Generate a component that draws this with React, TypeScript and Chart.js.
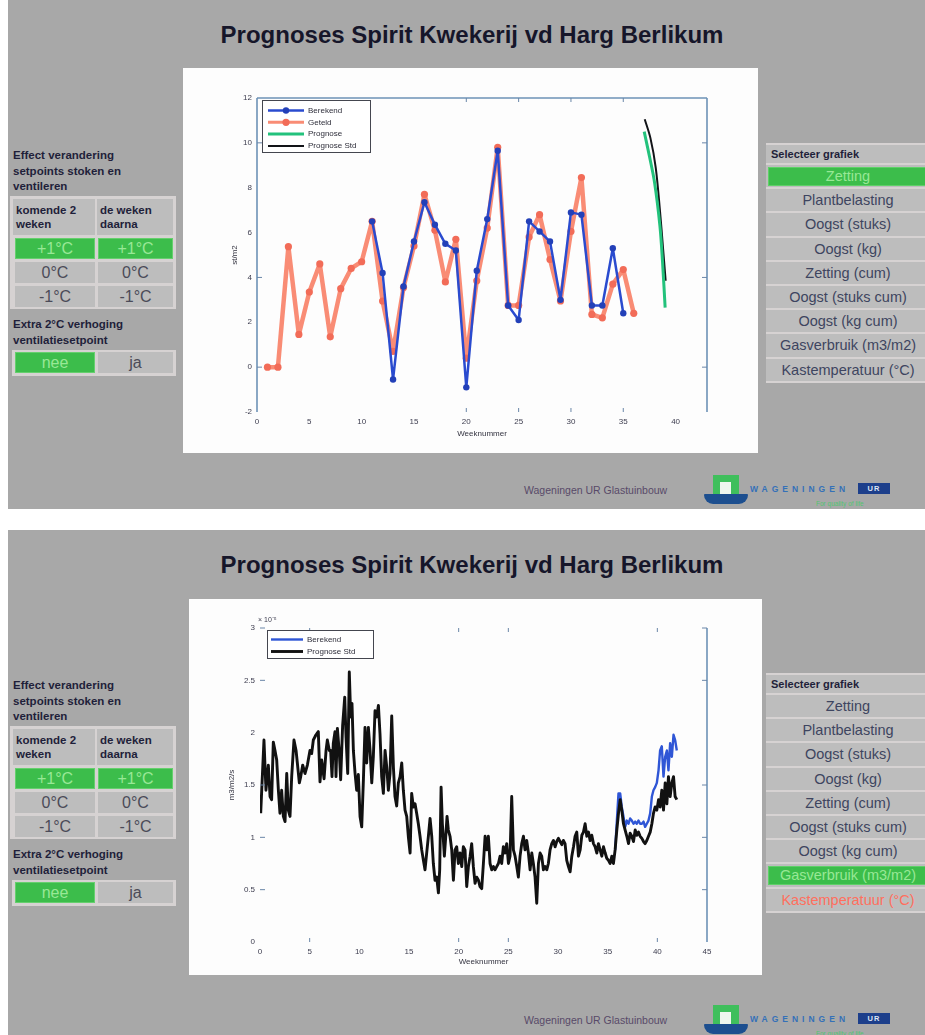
import React, { useEffect, useRef } from "react";
import { Chart, registerables } from "chart.js";

Chart.register(...registerables);

// ---- Zetting (st/m2 per week) ----
const getelWeeks = [1, 2, 3, 4, 5, 6, 7, 8, 9, 10, 11, 12, 13, 14, 15, 16, 17, 18, 19, 20, 21, 22, 23, 24, 25, 26, 27, 28, 29, 30, 31, 32, 33, 34, 35, 36];
const zettingGeteld = [0, 0, 5.37, 1.46, 3.35, 4.6, 1.35, 3.5, 4.4, 4.7, 6.5, 2.95, 0.7, 3.55, 5.4, 7.7, 6.1, 3.8, 5.7, 0.4, 3.85, 6.2, 9.8, 2.75, 2.75, 5.8, 6.8, 4.8, 2.95, 6.05, 8.45, 2.35, 2.2, 3.7, 4.35, 2.4];
const berekendWeeks = [11, 12, 13, 14, 15, 16, 17, 18, 19, 20, 21, 22, 23, 24, 25, 26, 27, 28, 29, 30, 31, 32, 33, 34, 35];
const zettingBerekend = [6.5, 4.2, -0.55, 3.6, 5.6, 7.35, 6.35, 5.5, 5.2, -0.9, 4.3, 6.6, 9.65, 2.75, 2.1, 6.5, 6.05, 5.6, 3.0, 6.9, 6.8, 2.75, 2.75, 5.3, 2.4];
const prognoseWeeks = [37, 37.5, 38, 38.5, 38.75, 39];
const zettingPrognose = [10.5, 9.4, 8.2, 6.3, 4.7, 2.65];
const prognoseStdWeeks = [37.05, 37.6, 38.1, 38.5, 38.8, 39.05];
const zettingPrognoseStd = [11.05, 10.2, 8.9, 7.0, 5.3, 3.85];
const zettingXMarks = [20, 25, 30, 35];
const zettingYMarks = [0, 4, 10];

// ---- Gasverbruik ----
const gasWeeks = [
  0.07, 0.40, 0.60, 0.84, 1.01, 1.17, 1.34, 1.51, 1.68, 1.85,
  2.01, 2.18, 2.35, 2.52, 2.69, 2.85, 3.02, 3.19, 3.42, 3.63,
  3.76, 3.96, 4.10, 4.30, 4.53, 4.77, 5.03, 5.20, 5.37, 5.64,
  5.87, 6.04, 6.21, 6.45, 6.65, 6.78, 6.98, 7.11, 7.25, 7.38,
  7.55, 7.65, 7.79, 7.99, 8.12, 8.32, 8.53, 8.66, 8.83, 8.99,
  9.13, 9.26, 9.40, 9.57, 9.73, 9.90, 10.07, 10.24, 10.41, 10.57,
  10.74, 10.91, 11.08, 11.25, 11.41, 11.58, 11.75, 11.92, 12.08, 12.25,
  12.42, 12.59, 12.76, 12.92, 13.09, 13.26, 13.43, 13.59, 13.76, 13.93,
  14.10, 14.27, 14.43, 14.60, 14.77, 14.94, 15.11,
  15.27, 15.44, 15.61, 15.77, 15.94, 16.11, 16.28, 16.45, 16.61, 16.78,
  16.95, 17.12, 17.29, 17.45, 17.62, 17.79, 17.96, 18.09, 18.23, 18.36,
  18.56, 18.70, 18.83, 18.96, 19.13, 19.30, 19.47, 19.64, 19.80, 19.97,
  20.14, 20.31, 20.47, 20.64, 20.81, 20.98, 21.15, 21.31, 21.48, 21.65,
  21.82, 21.99, 22.15, 22.32, 22.49, 22.66, 22.82, 22.99, 23.16, 23.33,
  23.50, 23.66, 23.83, 24.00, 24.17, 24.33, 24.50, 24.67, 24.84, 25.01,
  25.17, 25.34, 25.51, 25.68, 25.85, 26.01, 26.18, 26.35, 26.52, 26.68,
  26.85, 27.02, 27.19, 27.36, 27.52, 27.69, 27.86, 28.03, 28.20, 28.36,
  28.53, 28.70, 28.87, 29.03, 29.20, 29.37, 29.54, 29.71, 29.87, 30.04,
  30.21, 30.38, 30.54, 30.71,
  30.88, 31.05, 31.22, 31.39, 31.56, 31.72, 31.89, 32.06, 32.23, 32.40,
  32.56, 32.73, 32.90, 33.07, 33.23, 33.40, 33.57, 33.74, 33.91, 34.07,
  34.24, 34.41, 34.58, 34.75, 34.91, 35.08, 35.25, 35.42, 35.58, 35.75,
  35.92, 36.09, 36.26, 36.42, 36.59, 36.76, 36.93, 37.10, 37.26, 37.43,
  37.60, 37.77, 37.93, 38.10, 38.27, 38.44, 38.61, 38.77, 38.94, 39.11,
  39.28, 39.45, 39.61, 39.78, 39.95, 40.12, 40.28, 40.45, 40.62, 40.79,
  40.96, 41.12, 41.29, 41.46, 41.63, 41.79, 41.96,
];
const gasPrognoseStd = [
  1.23, 1.93, 1.45, 1.69, 1.39, 1.36, 1.91, 1.83, 1.74, 1.45,
  1.23, 1.45, 1.20, 1.15, 1.61, 1.26, 1.20, 1.58, 1.93, 1.83,
  1.71, 1.52, 1.58, 1.69, 1.61, 1.69, 1.83, 1.80, 1.93, 1.98,
  2.01, 1.53, 1.74, 1.56, 1.83, 1.93, 1.83, 1.83, 1.58, 1.90,
  2.01, 1.58, 2.04, 1.80, 1.55, 2.07, 2.34, 1.96, 1.61, 2.58,
  2.15, 2.28, 1.83, 1.61, 1.45, 1.60, 1.20, 1.10, 1.55, 2.05,
  1.71, 2.05, 1.83, 1.52, 1.77, 2.21, 2.15, 2.26, 1.99, 1.58,
  1.42, 1.83, 1.67, 1.45, 1.61, 2.16, 1.67, 1.39, 1.30, 1.52,
  1.58, 1.71, 1.45, 1.26, 1.20, 1.00, 0.85,
  1.42, 1.29, 1.32, 1.23, 1.13, 1.01, 0.88, 0.78, 0.69, 0.85,
  1.01, 1.18, 1.01, 0.75, 0.59, 0.62, 0.47, 0.69, 1.48, 1.13,
  0.82, 1.01, 1.20, 1.07, 1.01, 0.88, 0.59, 0.88, 0.91, 0.75,
  0.85, 0.72, 0.91, 0.88, 0.53, 0.72, 0.82, 0.94, 0.72, 0.56,
  0.62, 0.59, 0.53, 0.51, 0.75, 1.01, 0.88, 1.01, 0.75, 0.69,
  0.72, 0.69, 0.72, 0.75, 0.82, 0.75, 0.91, 0.85, 0.94, 0.75,
  0.82, 1.39, 0.88, 0.82, 0.72, 0.62, 0.82, 0.94, 1.01, 0.88,
  0.97, 0.85, 0.69, 0.85, 0.75, 0.62, 0.37, 0.75, 0.85, 0.82,
  0.69, 0.72, 0.69, 0.75, 0.88, 0.94, 0.97, 0.91, 0.96, 0.99,
  0.96, 0.93, 0.97, 0.94,
  0.78, 0.72, 0.67, 0.82, 0.91, 1.01, 1.05, 0.82, 0.88, 1.02,
  1.05, 1.13, 1.01, 1.05, 0.97, 1.02, 0.94, 0.91, 0.85, 0.94,
  0.88, 0.82, 0.91, 0.85, 0.80, 0.78, 0.75, 0.82, 0.75, 0.88,
  1.07, 1.23, 1.36, 1.26, 1.13, 1.07, 1.01, 0.94, 1.04, 1.01,
  0.96, 1.07, 1.02, 1.05, 1.01, 0.99, 0.96, 0.94, 0.97, 1.01,
  1.05, 1.13, 1.23, 1.29, 1.26, 1.36, 1.29, 1.45, 1.26, 1.52,
  1.32, 1.58, 1.39, 1.52, 1.58, 1.39, 1.36,
];
const gasBerekendWeeks = [
  35.75, 35.92, 36.09, 36.26, 36.42, 36.59, 36.76, 36.93, 37.10, 37.26,
  37.43, 37.60, 37.77, 37.93, 38.10, 38.27, 38.44, 38.61, 38.77, 38.94,
  39.11, 39.28, 39.45, 39.61, 39.78, 39.95, 40.12, 40.28, 40.45, 40.62,
  40.79, 40.96, 41.12, 41.29, 41.46, 41.63, 41.79, 41.96,
];
const gasBerekend = [
  0.88, 1.15, 1.42, 1.42, 1.29, 1.20, 1.10, 1.16, 1.13, 1.18,
  1.16, 1.13, 1.15, 1.13, 1.16, 1.13, 1.13, 1.15, 1.10, 1.13,
  1.16, 1.23, 1.39, 1.45, 1.48, 1.52, 1.64, 1.83, 1.87, 1.58,
  1.77, 1.83, 1.64, 1.90, 1.77, 1.98, 1.93, 1.83,
];
const gasXMarks = [5, 20, 25, 40];
const gasYMarks = [0.5, 1, 1.5, 2.5, 3];

// ---- Panel texts ----
const setpointSteps = ["+1°C", "0°C", "-1°C"];
const grafiekKeuzes = [
  "Zetting",
  "Plantbelasting",
  "Oogst (stuks)",
  "Oogst (kg)",
  "Zetting (cum)",
  "Oogst (stuks cum)",
  "Oogst (kg cum)",
  "Gasverbruik (m3/m2)",
  "Kastemperatuur (°C)",
];
const TITLE = "Prognoses Spirit Kwekerij vd Harg Berlikum";

const SANS = '"Liberation Sans", Arial, sans-serif';
const PANEL_GRAY = "#a8a8a8";
const CELL_GRAY = "#bdbdbd";
const CELL_LINE = "#d6d2d2";
const GREEN = "#3cbd4b";
const GREEN_TEXT = "#98e896";
const DARK_TEXT = "#1f1f3a";
const ROW_TEXT = "#3e4560";
const AXIS_BLUE = "#6d92b6";
const TICK_TEXT = "#3d3d4f";

const pts = (xs: number[], ys: number[]) => xs.map((x, i) => ({ x, y: ys[i] }));

// Draws the Matlab-like frame: partial borders, inward tick marks, boxed legend, exponent.
const framePlugin = {
  id: "matlabFrame",
  afterDatasetsDraw(chart: any, _args: any, opts: any) {
    const { ctx, chartArea: ca, scales } = chart;
    const xs = scales.x;
    const ys = scales.y;
    const line = (x1: number, y1: number, x2: number, y2: number) => {
      ctx.beginPath();
      ctx.moveTo(x1, y1);
      ctx.lineTo(x2, y2);
      ctx.stroke();
    };
    ctx.save();
    ctx.strokeStyle = AXIS_BLUE;
    ctx.lineWidth = 1.6;
    const b = opts.borders || {};
    if (b.left) line(ca.left, ca.top, ca.left, ca.bottom);
    if (b.top) line(ca.left, ca.top, ca.right, ca.top);
    if (b.right) line(ca.right, ca.top, ca.right, ca.bottom);
    if (b.bottom) line(ca.left, ca.bottom, ca.right, ca.bottom);

    ctx.lineWidth = 1;
    ctx.strokeStyle = "#6a86a8";
    (opts.xMarks || []).forEach((v: number) => {
      const px = xs.getPixelForValue(v);
      line(px, ca.bottom, px, ca.bottom - 4);
      line(px, ca.top, px, ca.top + 4);
    });
    (opts.yMarks || []).forEach((v: number) => {
      const py = ys.getPixelForValue(v);
      line(ca.left, py, ca.left + 5, py);
      line(ca.right, py, ca.right - 5, py);
    });

    const lg = opts.legend;
    if (lg) {
      const x0 = ca.left + lg.dx;
      const y0 = ca.top + lg.dy;
      ctx.fillStyle = "#ffffff";
      ctx.fillRect(x0, y0, lg.width, lg.height);
      ctx.strokeStyle = "#44464f";
      ctx.lineWidth = 1;
      ctx.strokeRect(x0 + 0.5, y0 + 0.5, lg.width, lg.height);
      ctx.font = `8px ${SANS}`;
      ctx.textBaseline = "middle";
      ctx.textAlign = "left";
      chart.data.datasets.forEach((ds: any, i: number) => {
        const y = y0 + lg.first + i * lg.row;
        ctx.strokeStyle = ds.borderColor;
        ctx.lineWidth = Math.min(ds.borderWidth, 3);
        line(x0 + lg.sample[0], y, x0 + lg.sample[1], y);
        if (ds.pointRadius > 0) {
          ctx.fillStyle = ds.pointBackgroundColor;
          ctx.beginPath();
          ctx.arc((2 * x0 + lg.sample[0] + lg.sample[1]) / 2, y, ds.pointRadius, 0, Math.PI * 2);
          ctx.fill();
        }
        ctx.fillStyle = "#2e2e3a";
        ctx.fillText(ds.label, x0 + lg.text, y);
      });
    }

    if (opts.exponent) {
      ctx.fillStyle = TICK_TEXT;
      ctx.font = `7px ${SANS}`;
      ctx.textAlign = "left";
      ctx.textBaseline = "bottom";
      ctx.fillText(opts.exponent, ca.left - 2, ca.top - 4);
    }
    ctx.restore();
  },
};

const tickFont = { family: SANS, size: 8 };

function axisOptions(cfg: any) {
  return {
    x: {
      type: "linear",
      min: cfg.xMin,
      max: cfg.xMax,
      afterFit: (s: any) => {
        s.height = cfg.bottom;
      },
      grid: { display: false, drawTicks: false },
      border: { display: false },
      ticks: {
        stepSize: 5,
        includeBounds: false,
        padding: 5,
        autoSkip: false,
        maxRotation: 0,
        font: tickFont,
        color: TICK_TEXT,
      },
      title: {
        display: true,
        text: "Weeknummer",
        font: tickFont,
        color: "#333340",
        padding: { top: 0, bottom: cfg.xTitlePad },
      },
    },
    y: {
      type: "linear",
      min: cfg.yMin,
      max: cfg.yMax,
      afterFit: (s: any) => {
        s.width = cfg.left;
      },
      grid: { display: false, drawTicks: false },
      border: { display: false },
      ticks: {
        stepSize: cfg.yStep,
        includeBounds: false,
        padding: 5,
        autoSkip: false,
        font: tickFont,
        color: TICK_TEXT,
        callback: (v: number) => String(v),
      },
      title: {
        display: true,
        text: cfg.yTitle,
        font: tickFont,
        color: "#333340",
        padding: { top: cfg.yTitlePad, bottom: 0 },
      },
    },
  };
}

function ZettingChart() {
  const ref = useRef<HTMLCanvasElement>(null);
  useEffect(() => {
    const chart = new Chart(ref.current as HTMLCanvasElement, {
      type: "line",
      data: {
        datasets: [
          {
            label: "Berekend",
            data: pts(berekendWeeks, zettingBerekend),
            borderColor: "#2a4bcf",
            backgroundColor: "#2a4bcf",
            pointBackgroundColor: "#2340b8",
            borderWidth: 2.5,
            borderJoinStyle: "round",
            pointRadius: 3.2,
            pointBorderWidth: 0,
          },
          {
            label: "Geteld",
            data: pts(getelWeeks, zettingGeteld),
            borderColor: "#f98c75",
            backgroundColor: "#f98c75",
            pointBackgroundColor: "#f26c58",
            borderWidth: 4.5,
            borderJoinStyle: "round",
            pointRadius: 3.6,
            pointBorderWidth: 0,
          },
          {
            label: "Prognose",
            data: pts(prognoseWeeks, zettingPrognose),
            borderColor: "#23c27c",
            backgroundColor: "#23c27c",
            borderWidth: 3,
            pointRadius: 0,
            tension: 0.35,
          },
          {
            label: "Prognose Std",
            data: pts(prognoseStdWeeks, zettingPrognoseStd),
            borderColor: "#121418",
            backgroundColor: "#121418",
            borderWidth: 2,
            pointRadius: 0,
            tension: 0.35,
          },
        ],
      },
      options: {
        responsive: false,
        animation: false,
        layout: { padding: { left: 0, top: 30, right: 51, bottom: 0 } },
        plugins: {
          legend: { display: false },
          tooltip: { enabled: false },
          matlabFrame: {
            borders: { left: true, top: true, right: true },
            xMarks: zettingXMarks,
            yMarks: zettingYMarks,
            legend: { dx: 5, dy: 2, width: 108, height: 52, first: 10.5, row: 11.8, sample: [6, 42], text: 46 },
          },
        },
        scales: axisOptions({
          xMin: 0,
          xMax: 43,
          yMin: -2,
          yMax: 12,
          yStep: 2,
          left: 74,
          bottom: 41,
          yTitle: "st/m2",
          yTitlePad: 47,
          xTitlePad: 14,
        }),
      } as any,
      plugins: [framePlugin as any],
    });
    return () => chart.destroy();
  }, []);
  return <canvas ref={ref} width={575} height={385} style={{ display: "block" }} />;
}

function GasChart() {
  const ref = useRef<HTMLCanvasElement>(null);
  useEffect(() => {
    const chart = new Chart(ref.current as HTMLCanvasElement, {
      type: "line",
      data: {
        datasets: [
          {
            label: "Berekend",
            data: pts(gasBerekendWeeks, gasBerekend),
            borderColor: "#2f56d6",
            backgroundColor: "#2f56d6",
            borderWidth: 2.4,
            borderJoinStyle: "round",
            pointRadius: 0,
            order: 1,
          },
          {
            label: "Prognose Std",
            data: pts(gasWeeks, gasPrognoseStd),
            borderColor: "#111111",
            backgroundColor: "#111111",
            borderWidth: 2.9,
            borderJoinStyle: "round",
            pointRadius: 0,
            order: 0,
          },
        ],
      },
      options: {
        responsive: false,
        animation: false,
        layout: { padding: { left: 0, top: 29, right: 55, bottom: 0 } },
        plugins: {
          legend: { display: false },
          tooltip: { enabled: false },
          matlabFrame: {
            borders: { right: true },
            xMarks: gasXMarks,
            yMarks: gasYMarks,
            exponent: "× 10⁻⁵",
            legend: { dx: 7, dy: 2, width: 106, height: 28, first: 9.5, row: 12, sample: [4, 36], text: 40 },
          },
        },
        scales: axisOptions({
          xMin: 0,
          xMax: 45,
          yMin: 0,
          yMax: 3,
          yStep: 0.5,
          left: 71,
          bottom: 33,
          yTitle: "m3/m2/s",
          yTitlePad: 38,
          xTitlePad: 8,
        }),
      } as any,
      plugins: [framePlugin as any],
    });
    return () => chart.destroy();
  }, []);
  return <canvas ref={ref} width={573} height={376} style={{ display: "block" }} />;
}

type BoxProps = {
  x: number;
  y: number;
  w: number;
  h: number;
  bg?: string;
  style?: React.CSSProperties;
  children?: React.ReactNode;
};

function Box({ x, y, w, h, bg, style, children }: BoxProps) {
  return (
    <div
      style={{
        position: "absolute",
        left: x,
        top: y,
        width: w,
        height: h,
        background: bg,
        boxSizing: "border-box",
        ...style,
      }}
    >
      {children}
    </div>
  );
}

const centered: React.CSSProperties = {
  display: "flex",
  alignItems: "center",
  justifyContent: "center",
  whiteSpace: "nowrap",
};

function SetpointPanel() {
  const heading: React.CSSProperties = {
    font: `bold 11.5px ${SANS}`,
    lineHeight: "15.5px",
    color: DARK_TEXT,
  };
  const valueFont = `16px ${SANS}`;
  return (
    <>
      <Box x={13} y={148} w={170} h={48} style={heading}>
        Effect verandering
        <br />
        setpoints stoken en
        <br />
        ventileren
      </Box>
      <Box x={10} y={196} w={166} h={113} bg={CELL_LINE} />
      <Box x={13} y={199} w={82} h={36} bg={CELL_GRAY} style={{ ...heading, lineHeight: "14px", padding: "4px 3px" }}>
        komende 2
        <br />
        weken
      </Box>
      <Box x={97} y={199} w={76} h={36} bg={CELL_GRAY} style={{ ...heading, lineHeight: "14px", padding: "4px 3px" }}>
        de weken
        <br />
        daarna
      </Box>
      {setpointSteps.map((s, i) => {
        const y = 238 + i * 24;
        const on = i === 0;
        const cellStyle: React.CSSProperties = {
          ...centered,
          font: valueFont,
          color: on ? GREEN_TEXT : "#4b4b58",
          border: on ? "1px solid #66cf6e" : "none",
        };
        return (
          <React.Fragment key={s}>
            <Box x={15} y={y} w={80} h={21} bg={on ? GREEN : CELL_GRAY} style={cellStyle}>
              {s}
            </Box>
            <Box x={98} y={y} w={75} h={21} bg={on ? GREEN : CELL_GRAY} style={cellStyle}>
              {s}
            </Box>
          </React.Fragment>
        );
      })}
      <Box x={13} y={317} w={170} h={32} style={heading}>
        Extra 2°C verhoging
        <br />
        ventilatiesetpoint
      </Box>
      <Box x={12} y={350} w={164} h={26} bg={CELL_LINE} />
      <Box x={15} y={352} w={80} h={21} bg={GREEN} style={{ ...centered, font: valueFont, color: GREEN_TEXT, border: "1px solid #66cf6e" }}>
        nee
      </Box>
      <Box x={98} y={352} w={75} h={21} bg={CELL_GRAY} style={{ ...centered, font: valueFont, color: "#4b4b58" }}>
        ja
      </Box>
    </>
  );
}

function GrafiekPanel({ selected, alert }: { selected: number; alert?: number }) {
  const rowTop = 163;
  const rowH = 24.2;
  return (
    <>
      <Box x={766} y={143} w={165} h={20} bg={CELL_GRAY} style={{ borderTop: `2px solid ${CELL_LINE}` }} />
      <Box x={771} y={146} w={150} h={16} style={{ font: `bold 11px ${SANS}`, color: DARK_TEXT, lineHeight: "16px" }}>
        Selecteer grafiek
      </Box>
      {grafiekKeuzes.map((label, i) => {
        const y = rowTop + i * rowH;
        const on = i === selected;
        const color = on ? GREEN_TEXT : i === alert ? "#ff6f5e" : ROW_TEXT;
        return (
          <React.Fragment key={label}>
            <Box x={766} y={y} w={165} h={rowH} bg={CELL_GRAY} style={{ borderTop: `2px solid ${CELL_LINE}` }} />
            {on && <Box x={768} y={y + 3.5} w={160} h={rowH - 5} bg={GREEN} style={{ border: "1px solid #5fd068" }} />}
            <Box x={768} y={y + 2} w={160} h={rowH - 2} style={{ ...centered, font: `14.5px ${SANS}`, color }}>
              {label}
            </Box>
          </React.Fragment>
        );
      })}
      <Box x={766} y={rowTop + grafiekKeuzes.length * rowH} w={165} h={2} bg={CELL_LINE} />
    </>
  );
}

function Footer() {
  return (
    <>
      <Box x={524} y={483} w={175} h={14} style={{ font: `10.5px ${SANS}`, color: "#584a69", whiteSpace: "nowrap", lineHeight: "14px" }}>
        Wageningen UR Glastuinbouw
      </Box>
      <Box x={713} y={475} w={26} h={22} bg="#3fbf5c" />
      <Box x={720} y={482} w={11} h={14} bg="#eef6ee" />
      <Box x={704} y={494} w={44} h={10} bg="#1d4f8f" style={{ borderRadius: "2px 2px 20px 20px" }} />
      <Box x={750} y={483} w={108} h={12} style={{ font: `bold 8.5px ${SANS}`, letterSpacing: "4px", color: "#3470b8", whiteSpace: "nowrap", lineHeight: "12px" }}>
        WAGENINGEN
      </Box>
      <Box x={858} y={483} w={32} h={11} bg="#1d3f8b" style={{ ...centered, font: `bold 7.5px ${SANS}`, color: "#dfe6f5", letterSpacing: "1px" }}>
        UR
      </Box>
      <Box x={816} y={499} w={70} h={9} style={{ font: `6.5px ${SANS}`, color: "#52c470", whiteSpace: "nowrap", lineHeight: "9px" }}>
        For quality of life
      </Box>
    </>
  );
}

function Panel({ top, height, chart, chartBox, selected, alert }: any) {
  return (
    <div style={{ position: "absolute", left: 0, top, width: 925, height, overflow: "hidden" }}>
      <Box x={8} y={0} w={930} h={height} bg={PANEL_GRAY} />
      <Box
        x={0}
        y={20}
        w={944}
        h={30}
        style={{ font: `bold 24px ${SANS}`, color: "#16162a", textAlign: "center", lineHeight: "30px", whiteSpace: "nowrap" }}
      >
        {TITLE}
      </Box>
      <Box x={chartBox.x} y={chartBox.y} w={chartBox.w} h={chartBox.h} bg="#fdfdfd">
        {chart}
      </Box>
      <SetpointPanel />
      <GrafiekPanel selected={selected} alert={alert} />
      <Footer />
    </div>
  );
}

export default function App() {
  return (
    <div
      style={{
        position: "absolute",
        left: 0,
        top: 0,
        width: 925,
        height: 1035,
        background: "#ffffff",
        overflow: "hidden",
      }}
    >
      <Panel top={0} height={509} chart={<ZettingChart />} chartBox={{ x: 183, y: 68, w: 575, h: 385 }} selected={0} />
      <Panel top={530} height={505} chart={<GasChart />} chartBox={{ x: 189, y: 69, w: 573, h: 376 }} selected={7} alert={8} />
    </div>
  );
}
